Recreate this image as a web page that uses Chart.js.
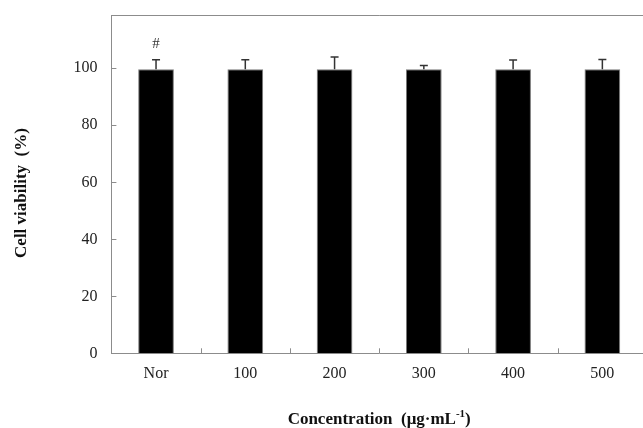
<!DOCTYPE html>
<html>
<head>
<meta charset="utf-8">
<script src="https://cdn.jsdelivr.net/npm/chart.js@4/dist/chart.umd.min.js"></script>
<style>
    html, body { margin: 0; padding: 0; overflow: hidden; background: #fff; }
    #wrap { width: 660px; height: 428px; }
</style>
</head>
<body>
<div id="wrap"><canvas id="bars"></canvas></div>
<script>
const categories = ['Nor', '100', '200', '300', '400', '500'];
const viability = [99.7, 99.7, 99.7, 99.7, 99.7, 99.7];
const errors = [3.3, 3.3, 4.3, 1.3, 3.2, 3.4];
const marks = ['#', '', '', '', '', ''];
const yTicks = [0, 20, 40, 60, 80, 100];

const serif = '"Liberation Serif", "Times New Roman", serif';
const axisGrey = '#8c8c8c';

// error bars, inward ticks, top frame, "#" and axis titles
const extras = {
    id: 'extras',
    afterDatasetsDraw(chart) {
        const ctx = chart.ctx;
        const x = chart.scales.x, y = chart.scales.y;
        const area = chart.chartArea;
        ctx.save();

        ctx.strokeStyle = '#333';
        ctx.lineWidth = 1.5;
        viability.forEach((v, i) => {
            const cx = x.getPixelForValue(i);
            const top = y.getPixelForValue(v + errors[i]);
            const base = y.getPixelForValue(v);
            ctx.beginPath();
            ctx.moveTo(cx, base);
            ctx.lineTo(cx, top);
            ctx.moveTo(cx - 4, top);
            ctx.lineTo(cx + 4, top);
            ctx.stroke();
            if (marks[i]) {
                ctx.fillStyle = '#333';
                ctx.font = '15px ' + serif;
                ctx.textAlign = 'center';
                ctx.textBaseline = 'middle';
                ctx.fillText(marks[i], cx, top - 16);
            }
        });

        ctx.strokeStyle = axisGrey;
        ctx.lineWidth = 1;
        ctx.beginPath();
        ctx.moveTo(area.left, Math.round(area.top) + 0.5);
        ctx.lineTo(area.right, Math.round(area.top) + 0.5);
        yTicks.forEach(t => {
            const py = Math.round(y.getPixelForValue(t)) + 0.5;
            ctx.moveTo(area.left, py);
            ctx.lineTo(area.left + 5, py);
        });
        for (let i = 1; i < categories.length; i++) {
            const px = Math.round((x.getPixelForValue(i - 1) + x.getPixelForValue(i)) / 2) + 0.5;
            ctx.moveTo(px, area.bottom);
            ctx.lineTo(px, area.bottom - 5);
        }
        ctx.stroke();

        // y title
        ctx.fillStyle = '#111';
        ctx.font = 'bold 17px ' + serif;
        ctx.textAlign = 'center';
        ctx.textBaseline = 'middle';
        ctx.save();
        ctx.translate(22, 193);
        ctx.rotate(-Math.PI / 2);
        ctx.fillText('Cell viability  (%)', 0, 0);
        ctx.restore();

        // x title with superscript
        const main = 'Concentration  (\u03bcg\u00b7mL';
        const sup = '-1';
        const tail = ')';
        ctx.font = 'bold 17px ' + serif;
        const w1 = ctx.measureText(main).width;
        const w3 = ctx.measureText(tail).width;
        ctx.font = 'bold 11px ' + serif;
        const w2 = ctx.measureText(sup).width;
        let sx = (area.left + area.right) / 2 - (w1 + w2 + w3) / 2;
        const by = 424;
        ctx.textAlign = 'left';
        ctx.textBaseline = 'alphabetic';
        ctx.font = 'bold 17px ' + serif;
        ctx.fillText(main, sx, by);
        sx += w1;
        ctx.font = 'bold 11px ' + serif;
        ctx.fillText(sup, sx, by - 7);
        sx += w2;
        ctx.font = 'bold 17px ' + serif;
        ctx.fillText(tail, sx, by);

        ctx.restore();
    }
};

new Chart(document.getElementById('bars'), {
    type: 'bar',
    data: {
        labels: categories,
        datasets: [{
            label: 'Cell viability',
            data: viability,
            backgroundColor: '#000',
            borderColor: '#7a7a7a',
            borderWidth: 1,
            categoryPercentage: 1,
            barPercentage: 0.4
        }]
    },
    options: {
        responsive: true,
        maintainAspectRatio: false,
        animation: false,
        layout: { padding: { left: 0, right: 13, top: 15, bottom: 0 } },
        plugins: { legend: { display: false }, tooltip: { enabled: false } },
        scales: {
            x: {
                grid: { display: false, drawTicks: false },
                border: { display: true, color: axisGrey },
                ticks: { color: '#222', padding: 11, font: { family: serif, size: 16 } },
                afterFit(scale) {
                    scale.height = 74.7;
                    scale.paddingLeft = 0;
                    scale.paddingRight = 0;
                }
            },
            y: {
                min: 0,
                max: 118.7,
                grid: { display: false, drawTicks: false },
                border: { display: true, color: axisGrey },
                afterBuildTicks(scale) { scale.ticks = yTicks.map(v => ({ value: v })); },
                ticks: { color: '#222', padding: 14, font: { family: serif, size: 16 } },
                afterFit(scale) {
                    scale.width = 111.4;
                    scale.paddingTop = 0;
                    scale.paddingBottom = 0;
                }
            }
        }
    },
    plugins: [extras]
});
</script>
</body>
</html>
